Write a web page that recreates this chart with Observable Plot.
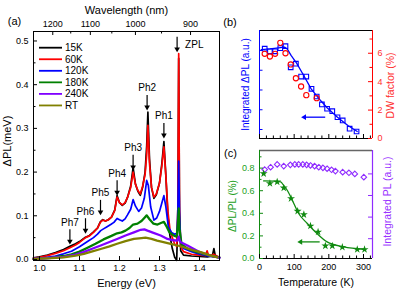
<!DOCTYPE html>
<html><head><meta charset="utf-8">
<script src="https://cdn.jsdelivr.net/npm/d3@7"></script>
<script src="https://cdn.jsdelivr.net/npm/@observablehq/plot@0.6"></script>
<style>
body{margin:0;background:#fff;}
#wrap{position:relative;width:399px;height:294px;overflow:hidden;font-family:"Liberation Sans",Arial,sans-serif;}
#wrap svg{position:absolute;left:0;top:0;background:transparent;}
</style></head><body><div id="wrap"></div>
<script>
// ================= DATA =================
// Panel (a): ΔPL spectra [energy (eV), ΔPL (meV)]
const spectrumLabels = ["15K","60K","120K","180K","240K","RT"];
const spectrumColors = ["#000000","#ff0000","#0000ff","#008000","#8000ff","#808000"];
const spec15K = [[0.985,0.004],[1.00,0.006],[1.02,0.010],[1.04,0.016],[1.06,0.023],[1.076,0.030],[1.09,0.036],[1.10,0.041],[1.115,0.051],[1.125,0.055],[1.135,0.063],[1.145,0.072],[1.152,0.086],[1.158,0.091],[1.165,0.088],[1.172,0.091],[1.18,0.097],[1.188,0.113],[1.194,0.146],[1.200,0.130],[1.207,0.124],[1.214,0.129],[1.220,0.142],[1.228,0.168],[1.234,0.210],[1.240,0.172],[1.246,0.156],[1.252,0.147],[1.258,0.166],[1.264,0.200],[1.268,0.26],[1.271,0.337],[1.275,0.23],[1.280,0.165],[1.286,0.140],[1.292,0.148],[1.300,0.175],[1.306,0.22],[1.311,0.270],[1.316,0.19],[1.321,0.10],[1.326,0.055],[1.332,0.025],[1.338,0.005],[1.343,-0.002],[1.346,0.10],[1.348,0.46],[1.350,0.10],[1.353,0.02],[1.36,0.010],[1.38,0.008],[1.40,0.007],[1.42,0.006],[1.432,0.008],[1.436,0.025],[1.440,0.006],[1.45,0.004]];
const spec60K = [[0.985,0.003],[1.00,0.005],[1.02,0.009],[1.04,0.014],[1.06,0.020],[1.076,0.027],[1.09,0.033],[1.10,0.039],[1.115,0.050],[1.125,0.054],[1.135,0.062],[1.145,0.072],[1.152,0.085],[1.158,0.090],[1.165,0.088],[1.172,0.091],[1.18,0.097],[1.188,0.112],[1.194,0.143],[1.200,0.130],[1.207,0.125],[1.214,0.130],[1.220,0.142],[1.228,0.165],[1.234,0.200],[1.240,0.172],[1.246,0.158],[1.252,0.150],[1.258,0.168],[1.264,0.195],[1.268,0.24],[1.271,0.307],[1.275,0.22],[1.280,0.165],[1.286,0.143],[1.292,0.150],[1.300,0.175],[1.306,0.215],[1.311,0.258],[1.316,0.19],[1.321,0.11],[1.326,0.07],[1.332,0.05],[1.338,0.035],[1.343,0.03],[1.346,0.12],[1.348,0.471],[1.350,0.12],[1.353,0.03],[1.36,0.018],[1.38,0.012],[1.40,0.010],[1.415,0.009],[1.419,0.020],[1.423,0.008],[1.435,0.012],[1.45,0.005]];
const spec120K = [[0.985,0.002],[1.00,0.003],[1.02,0.005],[1.04,0.008],[1.06,0.013],[1.08,0.019],[1.10,0.029],[1.12,0.041],[1.135,0.050],[1.145,0.058],[1.153,0.066],[1.160,0.070],[1.169,0.075],[1.178,0.080],[1.186,0.085],[1.194,0.094],[1.200,0.091],[1.207,0.088],[1.214,0.093],[1.220,0.102],[1.228,0.115],[1.234,0.137],[1.240,0.122],[1.248,0.110],[1.255,0.118],[1.262,0.140],[1.268,0.181],[1.272,0.170],[1.278,0.120],[1.286,0.090],[1.293,0.095],[1.300,0.110],[1.306,0.130],[1.311,0.146],[1.316,0.120],[1.322,0.075],[1.330,0.062],[1.338,0.058],[1.344,0.060],[1.346,0.12],[1.348,0.225],[1.350,0.11],[1.353,0.04],[1.36,0.025],[1.38,0.018],[1.40,0.012],[1.42,0.008],[1.45,0.004]];
const spec180K = [[0.985,0.001],[1.00,0.002],[1.03,0.004],[1.06,0.008],[1.08,0.012],[1.10,0.018],[1.12,0.027],[1.14,0.036],[1.16,0.046],[1.18,0.054],[1.194,0.060],[1.205,0.062],[1.215,0.066],[1.225,0.072],[1.234,0.080],[1.245,0.082],[1.255,0.088],[1.262,0.095],[1.268,0.101],[1.275,0.092],[1.285,0.082],[1.295,0.080],[1.305,0.084],[1.311,0.086],[1.318,0.075],[1.325,0.062],[1.335,0.055],[1.343,0.052],[1.346,0.08],[1.348,0.117],[1.350,0.07],[1.355,0.035],[1.37,0.025],[1.39,0.018],[1.41,0.012],[1.43,0.008],[1.45,0.005]];
const spec240K = [[0.985,0.001],[1.00,0.002],[1.03,0.004],[1.06,0.006],[1.09,0.011],[1.11,0.017],[1.13,0.024],[1.153,0.032],[1.175,0.040],[1.194,0.047],[1.215,0.055],[1.236,0.062],[1.253,0.068],[1.262,0.069],[1.270,0.066],[1.285,0.061],[1.303,0.055],[1.320,0.047],[1.335,0.044],[1.345,0.043],[1.348,0.052],[1.352,0.040],[1.37,0.032],[1.386,0.024],[1.40,0.017],[1.428,0.009],[1.45,0.004]];
const specRT = [[0.985,0.001],[1.00,0.002],[1.03,0.003],[1.06,0.005],[1.09,0.009],[1.111,0.013],[1.13,0.018],[1.153,0.024],[1.175,0.030],[1.194,0.036],[1.215,0.042],[1.236,0.047],[1.255,0.049],[1.265,0.050],[1.28,0.047],[1.294,0.043],[1.31,0.040],[1.328,0.036],[1.345,0.032],[1.361,0.028],[1.38,0.022],[1.403,0.017],[1.425,0.010],[1.445,0.005]];
const energyTicks = [1.0,1.1,1.2,1.3,1.4];
const energyMinor = [1.05,1.15,1.25,1.35];
const dplTicks = [0,0.1,0.2,0.3,0.4,0.5];
const dplMinor = [0.05,0.15,0.25,0.35,0.45];
const wavelengthTicks = [1200,1100,1000,900];
const wavelengthMinor = [1150,1050,950];
const peakNames = ["ZPL","Ph1","Ph2","Ph3","Ph4","Ph5","Ph6","Ph7"];
const peakEnergy = [1.344,1.311,1.269,1.234,1.194,1.1525,1.115,1.076];
const peakTip = [0.474,0.277,0.341,0.204,0.146,0.101,0.059,0.034];

// Panel (b): integrated ΔPL (a.u.) and DW factor (%) vs temperature
const tempDPL = [15,30,45,60,75,90,105,120,135,150,165,180,195,210,225,240,260,280];
const intDPL = [4.09,3.96,3.96,4.12,4.22,3.15,3.33,2.68,2.68,2.06,1.67,1.27,1.05,0.93,0.62,0.46,0.04,-0.10];
const tempDW = [15,30,45,60,75,90,105,120,135,165];
const dwFactor = [5.96,5.77,5.96,6.73,6.0,5.21,4.24,3.66,3.05,2.84];
const fitTempB = [5,30,55,72,80,91,107,128,149,172,195,225,255,282];
const fitDPL = [4.04,4.08,4.13,4.17,4.08,3.75,3.36,2.72,2.06,1.55,1.10,0.62,0.20,-0.10];
const dplAxisTicks = [0,1,2,3,4];
const dwTicks = [0,2,4,6];
const dwMinor = [1,3,5,7];

// Panel (c): ΔPL/PL (%) and integrated PL (a.u.) vs temperature
const tempRatio = [12,30,51,70,91,110,128,147,169,190,210,239,282,303];
const ratio = [0.752,0.664,0.678,0.625,0.531,0.419,0.389,0.288,0.235,0.112,0.112,0.100,0.080,0.080];
const tempPL = [15,32,51,70,89,102,113,125,136,147,159,171,183,195,208,219,240,258,275,301];
const intPL = [4.20,4.31,4.44,4.36,4.42,4.44,4.44,4.44,4.42,4.39,4.36,4.31,4.28,4.24,4.19,4.13,4.08,4.05,4.00,3.85];
const fitTempC = [12,40,61,70,80,99,113,138,166,195,243,301];
const fitRatio = [0.687,0.685,0.678,0.645,0.604,0.487,0.398,0.31,0.221,0.147,0.103,0.082];
const ratioTicks = [0,0.2,0.4,0.6,0.8];
const ratioMinor = [0.1,0.3,0.5,0.7,0.9];
const plAxisTicks = [1,2,3,4];
const tempTicks = [0,100,200,300];
const tempMinor = [20,40,60,80,120,140,160,180,220,240,260,280,320];

// ================= LAYOUT =================
const W = 399, H = 294;
const FONT = "Liberation Sans, Arial, sans-serif";
const C = {blue:"#0000ff", red:"#ff0000", green:"#108a10", purple:"#8f2bff",
           greenText:"#22a022", purpleText:"#9933ff", redText:"#ff3030"};
function frameOpts(F){
  return {width:W, height:H, marginLeft:F.left, marginRight:W-F.right,
          marginTop:F.top, marginBottom:H-F.bottom,
          style:{background:"transparent", fontFamily:FONT, overflow:"visible"}};
}
const wrap = document.getElementById("wrap");

// ---------- Panel (a) ----------
const FA = {left:33, right:219, top:31, bottom:260};
const xA = [0.985, 1.45], yA = [-0.0023, 0.5217];
const pwA = FA.right-FA.left, phA = FA.bottom-FA.top;
const kA = (yA[1]-yA[0])/phA;
const specs = [spec15K,spec60K,spec120K,spec180K,spec240K,specRT];
const peaks = peakNames.map((n,i)=>({name:n, e:peakEnergy[i], tip:peakTip[i]}));
const toE = l => 1239.84/l;

const chartA = Plot.plot({
  ...frameOpts(FA),
  x:{domain:xA, axis:null}, y:{domain:yA, axis:null},
  marks:[
    ...specs.map((s,i)=>Plot.line(s,{x:d=>d[0], y:d=>d[1], stroke:spectrumColors[i],
        strokeWidth: i<3 ? 1.7 : 2.3, strokeLinejoin:"round"})),
    Plot.frame({stroke:"#000", strokeWidth:1}),
    Plot.ruleX(energyTicks,{x:d=>d, insetTop:phA-4}),
    Plot.ruleX(energyMinor,{x:d=>d, insetTop:phA-2.5}),
    Plot.ruleY(dplTicks,{y:d=>d, insetRight:pwA-4}),
    Plot.ruleY(dplMinor,{y:d=>d, insetRight:pwA-2.5}),
    Plot.ruleX(wavelengthTicks,{x:toE, insetBottom:phA-4}),
    Plot.ruleX(wavelengthMinor,{x:toE, insetBottom:phA-2.5}),
    Plot.text(energyTicks,{x:d=>d, frameAnchor:"bottom", lineAnchor:"top", dy:4, text:d=>d.toFixed(1), fontSize:9}),
    Plot.text(dplTicks,{y:d=>d, frameAnchor:"left", textAnchor:"end", dx:-5, text:d=>d.toFixed(1), fontSize:9}),
    Plot.text(wavelengthTicks,{x:toE, frameAnchor:"top", lineAnchor:"bottom", dy:-5, text:d=>String(d), fontSize:9}),
    Plot.text(["Wavelength (nm)"],{frameAnchor:"top", dy:-25, fontSize:11}),
    Plot.text(["Energy (eV)"],{frameAnchor:"bottom", dy:26, fontSize:11}),
    Plot.text(["ΔPL(meV)"],{frameAnchor:"left", textAnchor:"middle", rotate:-90, dx:-26, dy:-5, fontSize:11}),
    Plot.text(["(a)"],{frameAnchor:"top-left", textAnchor:"middle", dx:-19, dy:-14, fontSize:11}),
    // peak arrows
    Plot.ruleX(peaks,{x:"e", y1:d=>d.tip+3*kA, y2:d=>d.tip+15*kA, stroke:"#000", strokeWidth:1.2}),
    Plot.dot(peaks,{x:"e", y:"tip", symbol:"triangle", rotate:180, r:2.1, fill:"#000", stroke:"none", dy:-3.3}),
    Plot.text(peaks.filter(d=>d.name!=="ZPL"),{x:"e", y:"tip", text:"name", dy:-19, lineAnchor:"bottom", fontSize:10}),
    Plot.text(peaks.filter(d=>d.name==="ZPL"),{x:"e", y:"tip", text:"name", dx:8, dy:-7.5, textAnchor:"start", fontSize:10})
  ]
});
// legend
{
  const g = d3.select(chartA).append("g").attr("font-size",10).attr("font-family",FONT).attr("text-anchor","start");
  spectrumLabels.forEach((lab,i)=>{
    const y = 47.7 + 11.55*i;
    g.append("line").attr("x1",39).attr("x2",62).attr("y1",y).attr("y2",y)
      .attr("stroke",spectrumColors[i]).attr("stroke-width",1.8);
    g.append("text").attr("x",65).attr("y",y).attr("dy","0.35em").attr("fill","#000").attr("text-anchor","start").text(lab);
  });
}
wrap.appendChild(chartA);

// ---------- Panel (b) ----------
const FB = {left:259, right:372, top:30, bottom:138};
const xT = [0, 326], yB = [0, 7.6];
const pwB = FB.right-FB.left, phB = FB.bottom-FB.top;
const dwOf = v => 0.633 + 1.39*v;   // left (a.u.) axis -> DW axis
const kxB = (xT[1]-xT[0])/pwB;
const arrowB = [{from:191, to:120, level:1.5}];

const chartB = Plot.plot({
  ...frameOpts(FB),
  x:{domain:xT, axis:null}, y:{domain:yB, axis:null},
  marks:[
    Plot.line(fitTempB.map((t,i)=>[t,fitDPL[i]]),{x:d=>d[0], y:d=>dwOf(d[1]), stroke:C.blue, strokeWidth:1.3}),
    Plot.dot(tempDPL.map((t,i)=>[t,intDPL[i]]),{x:d=>d[0], y:d=>dwOf(d[1]), symbol:"square", r:2.6, stroke:C.blue, fill:"none", strokeWidth:1.1}),
    Plot.dot(tempDW.map((t,i)=>[t,dwFactor[i]]),{x:d=>d[0], y:d=>d[1], symbol:"circle", r:2.6, stroke:C.red, fill:"none", strokeWidth:1.1}),
    Plot.ruleY([yB[1]],{stroke:"#000"}),
    Plot.ruleY([yB[0]],{stroke:"#000"}),
    Plot.ruleX([xT[0]],{stroke:C.blue}),
    Plot.ruleX([xT[1]],{stroke:C.red}),
    Plot.ruleX(tempTicks,{x:d=>d, insetTop:phB-4}),
    Plot.ruleX(tempMinor,{x:d=>d, insetTop:phB-2.5}),
    Plot.ruleY(dplAxisTicks,{y:dwOf, insetRight:pwB-3.5, stroke:C.blue}),
    Plot.ruleY(dwTicks,{y:d=>d, insetLeft:pwB-4, stroke:C.red}),
    Plot.ruleY(dwMinor,{y:d=>d, insetLeft:pwB-2.5, stroke:C.red}),
    Plot.text(dwTicks,{y:d=>d, frameAnchor:"right", textAnchor:"start", dx:5, text:d=>String(d), fill:C.redText, fontSize:9}),
    Plot.text(["Integrated ΔPL (a.u.)"],{frameAnchor:"left", textAnchor:"middle", rotate:-90, dx:-13.5, dy:0, fill:C.blue, fontSize:10}),
    Plot.text(["DW factor (%)"],{frameAnchor:"right", textAnchor:"middle", rotate:-90, dx:18, dy:1, fill:C.redText, fontSize:10.5}),
    Plot.text(["(b)"],{frameAnchor:"top-left", textAnchor:"middle", dx:-29.5, dy:-12.5, fontSize:11}),
    Plot.ruleY(arrowB,{y:"level", x1:d=>d.to+3.5*kxB, x2:"from", stroke:C.blue, strokeWidth:1.3}),
    Plot.dot(arrowB,{x:"to", y:"level", symbol:"triangle", rotate:-90, r:2.1, fill:C.blue, stroke:"none", dx:3.3})
  ]
});
wrap.appendChild(chartB);

// ---------- Panel (c) ----------
const FC = {left:259, right:372, top:150, bottom:258};
const yC = [0, 0.956];
const pwC = FC.right-FC.left, phC = FC.bottom-FC.top;
const plOf = p => -0.0159 + 0.1912*p;   // right (a.u.) axis -> ratio axis
const kxC = (xT[1]-xT[0])/pwC;
const arrowC = [{from:175, to:109, level:0.147}];

const chartC = Plot.plot({
  ...frameOpts(FC),
  x:{domain:xT, axis:null}, y:{domain:yC, axis:null},
  marks:[
    Plot.line(fitTempC.map((t,i)=>[t,fitRatio[i]]),{x:d=>d[0], y:d=>d[1], stroke:C.green, strokeWidth:1.3, curve:"monotone-x"}),
    Plot.dot(tempPL.map((t,i)=>[t,intPL[i]]),{x:d=>d[0], y:d=>plOf(d[1]), symbol:"diamond2", r:2.5, stroke:C.purple, fill:"none", strokeWidth:1.1}),
    Plot.dot(tempRatio.map((t,i)=>[t,ratio[i]]),{x:d=>d[0], y:d=>d[1], symbol:"star", r:2.5, fill:C.green, stroke:"none"}),
    Plot.ruleY([yC[1]],{stroke:"#666", strokeWidth:1.6}),
    Plot.ruleY([yC[0]],{stroke:"#000"}),
    Plot.ruleX([xT[0]],{stroke:C.green}),
    Plot.ruleX([xT[1]],{stroke:C.purple, strokeWidth:1.2}),
    Plot.ruleX(tempTicks,{x:d=>d, insetTop:phC-4}),
    Plot.ruleX(tempMinor,{x:d=>d, insetTop:phC-2.5}),
    Plot.ruleY(ratioTicks,{y:d=>d, insetRight:pwC-4, stroke:C.green}),
    Plot.ruleY(ratioMinor,{y:d=>d, insetRight:pwC-2.5, stroke:C.green}),
    Plot.ruleY(plAxisTicks,{y:plOf, insetLeft:pwC-4, stroke:C.purple}),
    Plot.text(ratioTicks,{y:d=>d, frameAnchor:"left", textAnchor:"end", dx:-5, text:d=>d.toFixed(1), fill:C.greenText, fontSize:9}),
    Plot.text(tempTicks,{x:d=>d, frameAnchor:"bottom", lineAnchor:"top", dy:5, text:d=>String(d), fontSize:9}),
    Plot.text(["Temperature (K)"],{frameAnchor:"bottom", dy:27, fontSize:10.5}),
    Plot.text(["ΔPL/PL (%)"],{frameAnchor:"left", textAnchor:"middle", rotate:-90, dx:-27, dy:1.5, fill:C.greenText, fontSize:10}),
    Plot.text(["Integrated PL (a.u.)"],{frameAnchor:"right", textAnchor:"middle", rotate:-90, dx:15, dy:-3, fill:C.purpleText, fontSize:10.5}),
    Plot.text(["(c)"],{frameAnchor:"top-left", textAnchor:"middle", dx:-29, dy:-1, fontSize:11}),
    Plot.ruleY(arrowC,{y:"level", x1:d=>d.to+3.5*kxC, x2:"from", stroke:C.green, strokeWidth:1.3}),
    Plot.dot(arrowC,{x:"to", y:"level", symbol:"triangle", rotate:-90, r:2.1, fill:C.green, stroke:"none", dx:3.3})
  ]
});
wrap.appendChild(chartC);
</script></body></html>
